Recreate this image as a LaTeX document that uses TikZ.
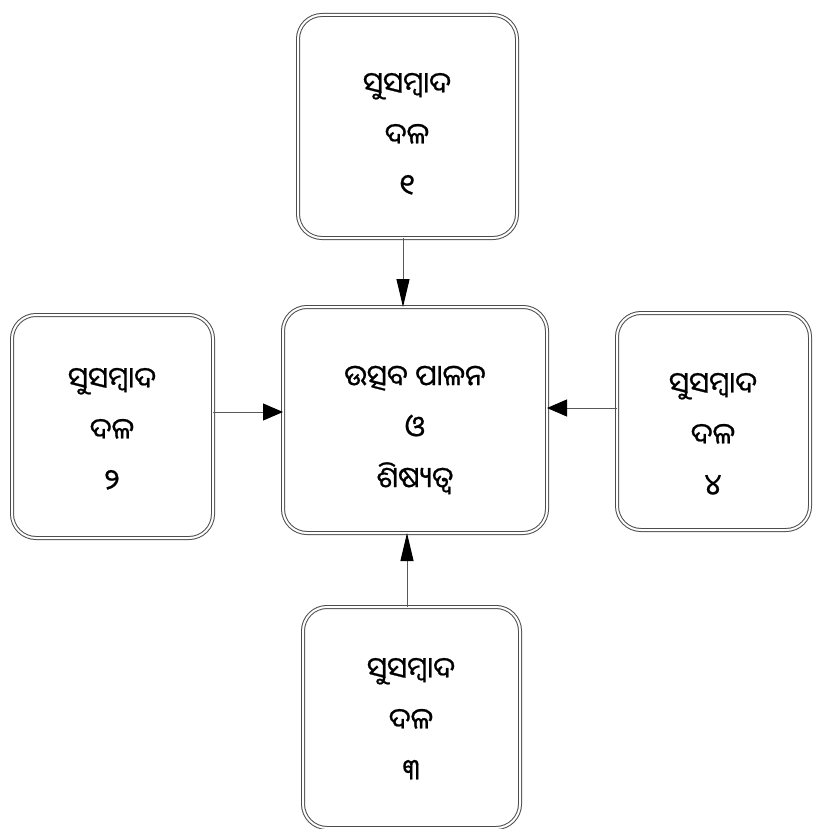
\documentclass[tikz,border=0pt]{standalone}
\usepackage{fontspec}
\newfontfamily\oriya[Script=Oriya,FakeBold=0.7]{Noto Sans Oriya UI}
\usetikzlibrary{arrows.meta}
\tikzset{
  box/.style={draw=black!70, double=white, double distance=2pt, line width=1pt,
    rounded corners=24pt, inner sep=0pt, outer sep=0pt, rectangle},
  txt/.style={align=center, font=\oriya\fontsize{29}{51}\selectfont, inner sep=0pt},
  conn/.style={draw=black!65, line width=1pt},
  vtip/.style={-{Triangle[length=28pt,width=13pt,color=black]}},
  htip/.style={-{Triangle[length=20pt,width=17pt,color=black]}},
}
\begin{document}
\begin{tikzpicture}[x=1pt,y=-1pt]
\useasboundingbox (0,0) rectangle (813,829);
% boxes
\node[box, minimum width=219pt, minimum height=223pt] (top) at (407.5,126.5) {};
\node[box, minimum width=264pt, minimum height=226pt] (ctr) at (415,420) {};
\node[box, minimum width=201pt, minimum height=223pt] (lft) at (112.5,426.5) {};
\node[box, minimum width=193pt, minimum height=217pt] (rgt) at (713.5,421.5) {};
\node[box, minimum width=217pt, minimum height=221pt] (bot) at (411.5,717.5) {};
% texts
\node[txt] (ttop) at (407,135) {ସୁସମ୍ବାଦ\\ଦଳ\\୧};
\node[txt] (tctr) at (415,430) {ଉତ୍ସବ ପାଳନ\\ଓ\\ଶିଷ୍ୟତ୍ୱ};
\node[txt] (tlft) at (112,430) {ସୁସମ୍ବାଦ\\ଦଳ\\୨};
\node[txt] (trgt) at (713,435) {ସୁସମ୍ବାଦ\\ଦଳ\\୪};
\node[txt] (tbot) at (411,720) {ସୁସମ୍ବାଦ\\ଦଳ\\୩};
% connectors
\coordinate (xa) at (403,0);
\coordinate (xb) at (407,0);
\coordinate (ya) at (0,412);
\coordinate (yb) at (0,408);
\draw[conn, vtip] (xa |- top.south) -- (xa |- ctr.north);
\draw[conn, vtip] (xb |- bot.north) -- (xb |- ctr.south);
\draw[conn, htip] (lft.east |- ya) -- (ctr.west |- ya);
\draw[conn, htip] (rgt.west |- yb) -- (ctr.east |- yb);
\end{tikzpicture}
\end{document}
